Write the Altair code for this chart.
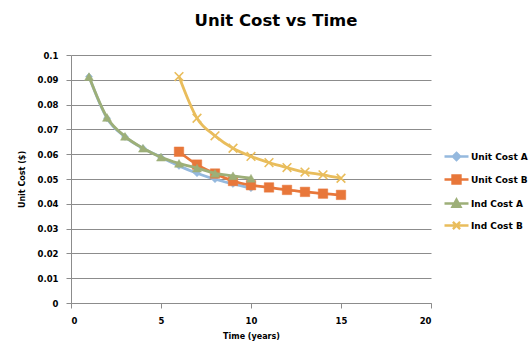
import altair as alt
import pandas as pd

# ---- data ----
years_a = [1, 2, 3, 4, 5, 6, 7, 8, 9, 10]
unit_cost_a = [0.0913, 0.0745, 0.0670, 0.0624, 0.0588, 0.0553, 0.0523, 0.0499, 0.0480, 0.0463]
ind_cost_a = [0.0913, 0.0748, 0.0672, 0.0624, 0.0588, 0.0563, 0.0544, 0.0523, 0.0513, 0.0503]
years_b = [6, 7, 8, 9, 10, 11, 12, 13, 14, 15]
unit_cost_b = [0.0610, 0.0558, 0.0522, 0.0492, 0.0475, 0.0466, 0.0456, 0.0448, 0.0441, 0.0436]
ind_cost_b = [0.0913, 0.0745, 0.0674, 0.0624, 0.0591, 0.0566, 0.0546, 0.0528, 0.0517, 0.0503]

series_names = ["Unit Cost A", "Unit Cost B", "Ind Cost A", "Ind Cost B"]
series_colors = ["#95B9DE", "#E8773A", "#9DAF78", "#E9BD5C"]
x_ticks = [0, 5, 10, 15, 20]
y_ticks = [0, 0.01, 0.02, 0.03, 0.04, 0.05, 0.06, 0.07, 0.08, 0.09, 0.1]

rows = []
for name, xs, ys in [
    ("Unit Cost A", years_a, unit_cost_a),
    ("Unit Cost B", years_b, unit_cost_b),
    ("Ind Cost A", years_a, ind_cost_a),
    ("Ind Cost B", years_b, ind_cost_b),
]:
    for xv, yv in zip(xs, ys):
        rows.append({"series": name, "time": xv, "cost": yv})
df = pd.DataFrame(rows)

FONT = "DejaVu Sans"
GRID = "#8C8C8C"

x_enc = alt.X("time:Q", title="Time (years)",
              scale=alt.Scale(domain=[0, 20], nice=False),
              axis=alt.Axis(values=x_ticks, grid=False, domainColor=GRID, tickColor=GRID,
                            tickSize=5, labelPadding=8, titlePadding=8,
                            labelFont=FONT, labelFontSize=8.5, labelFontWeight="bold",
                            labelColor="#000", titleFont=FONT, titleFontSize=8,
                            titleFontWeight="bold", titleColor="#000"))
y_enc = alt.Y("cost:Q", title="Unit Cost ($)",
              scale=alt.Scale(domain=[0, 0.1], nice=False),
              axis=alt.Axis(values=y_ticks, grid=True, gridColor=GRID, gridWidth=1,
                            domainColor=GRID, tickColor=GRID, tickSize=5,
                            labelExpr="format(datum.value, '.2~f')", labelPadding=8,
                            labelOverlap=False, titlePadding=11,
                            labelFont=FONT, labelFontSize=8.5, labelFontWeight="bold",
                            labelColor="#000", titleFont=FONT, titleFontSize=8,
                            titleFontWeight="bold", titleColor="#000"))

plot_shapes = ["diamond", "square", "triangle-up", "M-1,-1L1,1M-1,1L1,-1"]
plot_sizes = [50, 90, 80, 75]

layers = []
for i, name in enumerate(series_names):
    base = alt.Chart(df).transform_filter(alt.datum.series == name)
    line = base.mark_line(color=series_colors[i], strokeWidth=2.8, interpolate="monotone").encode(
        x=x_enc, y=y_enc)
    pts = base.mark_point(shape=plot_shapes[i], size=plot_sizes[i], filled=(i != 3),
                          color=series_colors[i], stroke=series_colors[i],
                          strokeWidth=1.6 if i == 3 else 0.5, opacity=1).encode(
        x=x_enc, y=y_enc)
    layers += [line, pts]

legend_paths = [
    "M-3,0L3,0M0,-0.9L0.9,0L0,0.9L-0.9,0Z",
    "M-3,0L3,0M-1,-1L1,-1L1,1L-1,1Z",
    "M-3,0L3,0M0,-1L1,0.8L-1,0.8Z",
    "M-3,0L3,0M-0.9,-0.9L0.9,0.9M-0.9,0.9L0.9,-0.9",
]

legend_layer = alt.Chart(df).transform_filter("false").mark_point(filled=True, strokeWidth=2.4).encode(
    x=x_enc, y=y_enc,
    fill=alt.Fill("series:N", scale=alt.Scale(domain=series_names, range=series_colors),
                  legend=alt.Legend(title=None, orient="none", legendX=380, legendY=96,
                                    symbolSize=64, labelOffset=9, rowPadding=5,
                                    labelFont=FONT, labelFontSize=9, labelFontWeight="bold",
                                    labelColor="#000", symbolStrokeWidth=2.4,
                                    labelLimit=200)),
    stroke=alt.Stroke("series:N", scale=alt.Scale(domain=series_names, range=series_colors)),
    shape=alt.Shape("series:N", scale=alt.Scale(domain=series_names, range=legend_paths)),
)

chart = alt.layer(*layers, legend_layer).resolve_scale(
    fill="independent", stroke="independent", shape="independent"
).properties(
    width=360, height=248,
    padding={"left": 71, "top": 55, "right": 99, "bottom": 44},
    autosize=alt.AutoSizeParams(type="none"),
    title=alt.TitleParams("Unit Cost vs Time", font=FONT, fontSize=16.5, fontWeight="bold",
                          color="#000", anchor="middle", dx=25, offset=22),
).configure_view(stroke=None).configure_legend(symbolOpacity=1)

chart.save("out.html", embed_options={"renderer": "svg", "actions": False})
